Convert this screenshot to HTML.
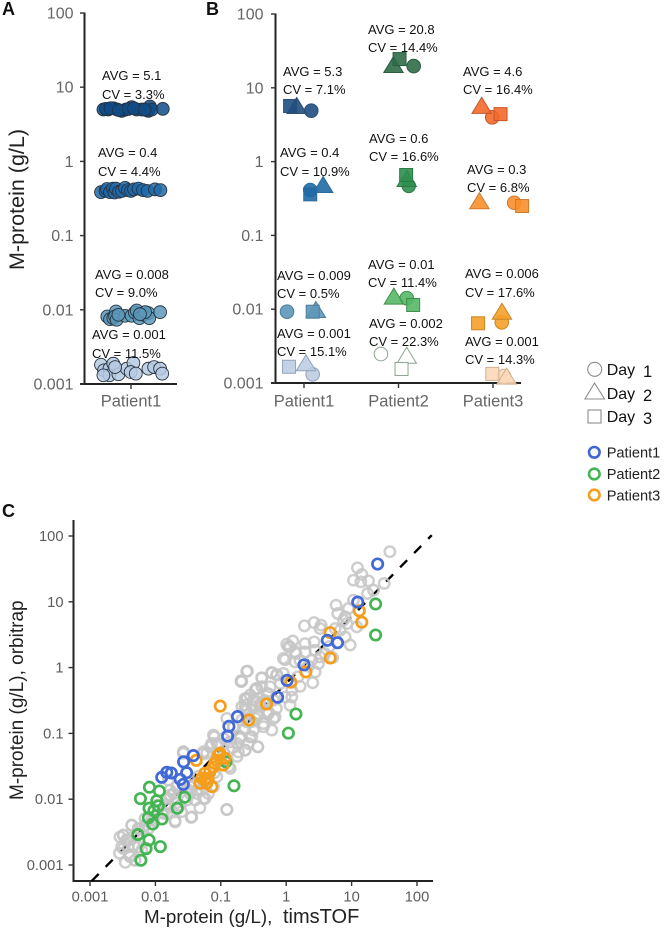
<!DOCTYPE html>
<html lang="en">
<head>
<meta charset="utf-8">
<title>M-protein measurements</title>
<style>
html,body{margin:0;padding:0;background:#fff;width:664px;height:930px;overflow:hidden}
svg{display:block;font-family:"Liberation Sans",sans-serif}
.lbl{font-size:13px;fill:#111}
.tick{font-size:16px;fill:#666}
.ctick{font-size:14.7px;fill:#5c5c5c}
.cat{font-size:16.5px;fill:#666}
.letter{font-size:18px;font-weight:bold;fill:#111}
.axis{stroke:#222;stroke-width:2;fill:none}
.tk{stroke:#333;stroke-width:1.4;fill:none}
</style>
</head>
<body>
<svg id="fig" width="664" height="930" viewBox="0 0 664 930" xmlns="http://www.w3.org/2000/svg">
  <text class="letter" x="2" y="15">A</text>
  <text class="letter" x="206" y="15">B</text>
  <text class="letter" x="2" y="517">C</text>

  <g id="panelA"></g>
  <g id="panelB"></g>
  <g id="panelC"></g>

  <text transform="translate(24,270) rotate(-90)" font-size="21.5" fill="#222">M-protein (g/L)</text>

  <g>
    <text class="lbl" x="102" y="80">AVG = 5.1</text><text class="lbl" x="102" y="99">CV = 3.3%</text>
    <text class="lbl" x="98" y="157">AVG = 0.4</text><text class="lbl" x="98" y="176">CV = 4.4%</text>
    <text class="lbl" x="95" y="279">AVG = 0.008</text><text class="lbl" x="95" y="297">CV = 9.0%</text>
    <text class="lbl" x="92" y="339">AVG = 0.001</text><text class="lbl" x="92" y="358">CV = 11.5%</text>
  </g>
  <g>
    <text class="lbl" x="283" y="76">AVG = 5.3</text><text class="lbl" x="283" y="94">CV = 7.1%</text>
    <text class="lbl" x="368" y="34">AVG = 20.8</text><text class="lbl" x="368" y="52">CV = 14.4%</text>
    <text class="lbl" x="463" y="76">AVG = 4.6</text><text class="lbl" x="463" y="94">CV = 16.4%</text>
    <text class="lbl" x="280" y="157">AVG = 0.4</text><text class="lbl" x="280" y="176">CV = 10.9%</text>
    <text class="lbl" x="369" y="143">AVG = 0.6</text><text class="lbl" x="369" y="161">CV = 16.6%</text>
    <text class="lbl" x="467" y="174">AVG = 0.3</text><text class="lbl" x="467" y="192">CV = 6.8%</text>
    <text class="lbl" x="277" y="280">AVG = 0.009</text><text class="lbl" x="277" y="298">CV = 0.5%</text>
    <text class="lbl" x="368" y="269">AVG = 0.01</text><text class="lbl" x="368" y="287">CV = 11.4%</text>
    <text class="lbl" x="465" y="278">AVG = 0.006</text><text class="lbl" x="465" y="297">CV = 17.6%</text>
    <text class="lbl" x="277" y="338">AVG = 0.001</text><text class="lbl" x="277" y="356">CV = 15.1%</text>
    <text class="lbl" x="369" y="328">AVG = 0.002</text><text class="lbl" x="369" y="346">CV = 22.3%</text>
    <text class="lbl" x="465" y="346">AVG = 0.001</text><text class="lbl" x="465" y="364">CV = 14.3%</text>
  </g>

  <g>
    <g>
      <circle cx="594.7" cy="369.3" r="7" fill="#fff" stroke="#8c8c8c" stroke-width="1.1"/>
      <text x="606.7" y="375" font-size="16" fill="#111">Day<tspan x="643" dy="2" font-size="16.5">1</tspan></text>
    </g>
    <g>
      <polygon points="594.5,383 604.5,399 585,399" fill="#fff" stroke="#8c8c8c" stroke-width="1.1"/>
      <text x="606.7" y="399" font-size="16" fill="#111">Day<tspan x="643" dy="2" font-size="16.5">2</tspan></text>
    </g>
    <g>
      <rect x="588" y="410" width="13" height="13" fill="#fff" stroke="#8c8c8c" stroke-width="1.1"/>
      <text x="606.7" y="422" font-size="16" fill="#111">Day<tspan x="643" dy="2" font-size="16.5">3</tspan></text>
    </g>
  </g>
  <g>
    <g>
      <circle cx="594.3" cy="452.3" r="5.3" fill="none" stroke="#3f66d2" stroke-width="2.6"/>
      <text x="606.7" y="457.3" font-size="14.6" fill="#222">Patient1</text>
    </g>
    <g>
      <circle cx="594.3" cy="474" r="5.3" fill="none" stroke="#45b554" stroke-width="2.6"/>
      <text x="606.7" y="479" font-size="14.6" fill="#222">Patient2</text>
    </g>
    <g>
      <circle cx="594.3" cy="495" r="5.3" fill="none" stroke="#f59e1c" stroke-width="2.6"/>
      <text x="606.7" y="500.5" font-size="14.6" fill="#222">Patient3</text>
    </g>
  </g>

  <text transform="translate(23,800) rotate(-90)" font-size="19" fill="#222">M-protein (g/L), orbitrap</text>
  <text x="144" y="923" font-size="18.8" fill="#222">M-protein (g/L),<tspan x="283" font-size="20">timsTOF</tspan></text>
</svg>

<script>
// ---------- shared tick data ----------
const logTickValues = [100, 10, 1, 0.1, 0.01, 0.001];
const logTickLabels = ['100', '10', '1', '0.1', '0.01', '0.001'];
const patientLabels = ['Patient1', 'Patient2', 'Patient3'];
const cTickValues = [0.001, 0.01, 0.1, 1, 10, 100];
const cTickLabels = ['0.001', '0.01', '0.1', '1', '10', '100'];

// ---------- panel A: replicate measurements per concentration level ----------
const aRowColors = ['#0f4c8a', '#2068a8', '#5c98b9', '#b7cae2'];
const aRow1Jitter = [-0.92, -0.76, -0.59, -0.46, -0.31, -0.17, 0.02, 0.19, 0.36, 0.52, 0.58, 0.63, 0.69, 1.06, -0.84, -0.68, -0.4, -0.08, 0.1, 0.45];
const aRow1Values = [5.0, 5.0, 5.2, 5.0, 4.8, 5.0, 5.4, 5.0, 5.0, 4.9, 4.8, 5.5, 5.0, 5.1, 5.1, 5.2, 4.9, 5.1, 5.2, 5.0];
const aRow2Jitter = [-1.0, -0.85, -0.8, -0.7, -0.6, -0.55, -0.5, -0.4, -0.3, -0.2, -0.1, 0.0, 0.1, 0.25, 0.4, 0.55, 0.8, 0.98];
const aRow2Values = [0.385, 0.40, 0.425, 0.385, 0.43, 0.38, 0.43, 0.39, 0.40, 0.44, 0.41, 0.40, 0.42, 0.43, 0.41, 0.40, 0.42, 0.41];
const aRow3Jitter = [-0.79, -0.7, -0.59, -0.5, -0.53, -0.48, -0.2, 0.02, 0.13, 0.19, 0.28, 0.41, 0.58, 0.61, 0.97, 0.47, 0.3, -0.42];
const aRow3Values = [0.00813, 0.00748, 0.00772, 0.0095, 0.00813, 0.00733, 0.0083, 0.0083, 0.0092, 0.0098, 0.00772, 0.00856, 0.00902, 0.00772, 0.0093, 0.0093, 0.00874, 0.00856];
const aRow4Jitter = [-1.0, -0.9, -0.72, -0.59, -0.72, -0.42, -0.14, 0.08, -0.01, 0.16, 0.58, 0.77, 0.97, 1.04, -0.92, -0.53];
const aRow4Values = [0.00182, 0.00153, 0.00161, 0.00188, 0.00131, 0.00135, 0.00161, 0.00192, 0.00145, 0.00138, 0.00161, 0.00169, 0.00161, 0.00138, 0.00131, 0.00169];

// ---------- panel B: one group per patient/level ----------
const bPatientIndex = [0, 0, 0, 0, 1, 1, 1, 1, 2, 2, 2, 2];
const bFill = ['#1f4e80', '#1f6aa5', '#5e97b8', '#bccde2', '#2e6b48', '#2f8f4f', '#55b866', '#ffffff', '#f26a2c', '#f78f2e', '#f5a028', '#fbd8b8'];
const bStroke = ['#2b4f76', '#2b6a9c', '#4d7d99', '#8fa3bb', '#2d5c41', '#2d7a47', '#3f8d4e', '#8ea38f', '#c9562a', '#cf7a2c', '#c98524', '#d0b090'];
const bDay1Values = [4.9, 0.412, 0.00925, 0.00131, 19.7, 0.47, 0.0141, 0.00247, 3.98, 0.277, 0.00664, 0.00124];
const bDay2Values = [5.67, 0.482, 0.00975, 0.00185, 20.4, 0.58, 0.0148, 0.00234, 5.7, 0.29, 0.00925, 0.00122];
const bDay3Values = [5.67, 0.36, 0.00925, 0.00166, 24.5, 0.658, 0.0114, 0.00155, 4.4, 0.25, 0.00644, 0.00133];
const bDay1Dodge = [0.077, 0.066, -0.18, 0.092, 0.161, 0.108, 0.087, -0.186, -0.008, 0.224, 0.093, 0.116];
const bDay2Dodge = [-0.077, 0.203, 0.126, 0.021, -0.053, 0.087, -0.049, 0.087, -0.12, -0.144, 0.095, 0.144];
const bDay3Dodge = [-0.147, 0.066, 0.092, -0.158, 0.011, 0.081, 0.155, 0.032, 0.08, 0.308, -0.158, -0.007];

// ---------- panel C: timsTOF vs orbitrap ----------
const blueX = [25, 12.4, 6.1, 4.25, 1.87, 1.03, 0.74, 0.18, 0.133, 0.127, 0.038, 0.027, 0.03, 0.024, 0.0267, 0.0175, 0.0149, 0.0125];
const blueY = [37.5, 9.9, 2.39, 2.6, 1.1, 0.64, 0.354, 0.18, 0.128, 0.091, 0.046, 0.037, 0.0253, 0.02, 0.0168, 0.025, 0.0256, 0.0215];
const greenX = [23.3, 23.3, 1.41, 1.08, 0.159, 0.12, 0.028, 0.0216, 0.0081, 0.0115, 0.0059, 0.0105, 0.0111, 0.008, 0.0095, 0.0078, 0.0126, 0.0091, 0.0054, 0.008, 0.0072, 0.0119, 0.006];
const greenY = [9.27, 3.13, 0.197, 0.101, 0.016, 0.037, 0.0107, 0.0073, 0.0152, 0.0133, 0.0102, 0.0095, 0.0079, 0.0073, 0.0067, 0.0052, 0.005, 0.0042, 0.0029, 0.0024, 0.00177, 0.0019, 0.00118];
const orangeX = [13.1, 14.3, 4.7, 4.7, 2.0, 1.18, 0.5, 0.27, 0.098, 0.042, 0.097, 0.116, 0.086, 0.109, 0.077, 0.068, 0.057, 0.051, 0.064, 0.048, 0.061, 0.073, 0.057, 0.092, 0.081];
const orangeY = [7.3, 4.9, 3.4, 1.4, 0.86, 0.6, 0.28, 0.16, 0.26, 0.039, 0.05, 0.042, 0.039, 0.033, 0.031, 0.026, 0.0248, 0.0208, 0.0208, 0.0175, 0.0175, 0.0155, 0.0196, 0.047, 0.035];
const greyLog10X = [1.585, 1.09, 1.156, 1.029, 1.258, 1.141, 1.498, 1.243, 1.335, 1.029, 0.763, 0.952, 0.789, 0.279, 0.427, 0.534, 0.519, 0.876, 0.927, 0.901, 1.08, 0.825, 0.748, 0.901, 0.978, 0.008, 0.1, 0.059, 0.289, 0.427, 0.151, 0.289, 0.442, -0.017, 0.136, 0.519, 0.595, 0.391, 0.493, 0.442, 0.406, 0.212, -0.221, -0.145, -0.374, -0.604, -0.68, -0.461, -0.272, -0.017, 0.085, 0.059, -0.4, -0.63, -0.502, -0.272, -0.17, -0.604, -0.689, -0.372, -0.474, -0.602, -0.449, -0.628, -0.296, -0.347, -0.525, -0.434, -0.628, -0.755, -0.908, -1.112, -1.138, -1.265, -1.571, -0.857, -0.908, -1.444, -1.699, -1.265, -1.189, -1.469, -1.775, -1.852, -1.622, -2.362, -2.49, -2.541, -2.413, -2.49, -2.388, -2.311, -2.337, -2.209, -2.26, -1.98, -2.03, -1.826, -1.724, -1.52, -1.367, -1.06, -1.06, -0.959, -0.806, -0.704, -0.602, -0.474, -0.678, -0.551, 0.21, 0.34, 0.66, 0.71, 0.18, -0.09, -0.3, -0.44, -0.15, -0.52, -0.82, -0.95, -1.0, -1.1, -1.21, -1.34, -1.41, -1.5, -1.6, -1.68, -1.9, -2.1, -2.19, -2.44, -2.55, -2.46, -2.33, -0.75, -0.88, -1.32, -0.33, -0.22, -0.593, -0.69, -0.374, -0.221, -0.144, -0.45, -0.603, -0.629, -0.501, -0.297, -0.195, -0.399, -0.272, -0.195, -0.348, -0.425, -0.501, -0.68, -0.629, -0.706, -0.553, -0.435, -0.629, -0.731, -0.578, -1.098, -1.165, -1.037, -1.267, -1.573, -0.859, -0.808, 0.034, -0.043, 0.136, 0.085, -0.246, -0.043, -0.908, -1.454, -1.699, -1.367, -1.24, -1.776, -1.801, -1.47, -1.291, -1.776, -1.878, -2.158, -2.362, -2.49, -2.439, -2.26, -2.413, -2.515, -2.388, -2.311, -2.26, -2.158, -2.056, -1.572, -1.214, -1.112, -1.393, -1.801, -1.674];
const greyLog10Y = [1.761, 1.517, 1.416, 1.329, 1.319, 1.304, 1.279, 1.126, 1.177, 1.025, 0.949, 0.898, 0.822, 0.634, 0.685, 0.644, 0.593, 0.72, 0.669, 0.771, 0.619, 0.568, 0.593, 0.466, 0.345, 0.355, 0.405, 0.314, 0.365, 0.39, 0.213, 0.238, 0.263, 0.121, 0.086, 0.162, 0.213, 0.111, 0.06, -0.067, -0.229, -0.285, -0.082, -0.107, -0.158, -0.056, -0.209, -0.32, -0.397, -0.447, -0.447, -0.574, -0.549, -0.473, -0.6, -0.701, -0.752, -0.65, -0.213, -0.29, -0.34, -0.467, -0.518, -0.619, -0.696, -0.899, -1.051, -1.203, -1.254, -1.152, -0.772, -1.026, -1.152, -1.279, -1.279, -1.533, -2.158, -2.269, -2.345, -1.99, -1.914, -1.914, -1.939, -2.092, -2.092, -2.396, -2.548, -2.574, -2.624, -2.751, -2.853, -2.929, -2.574, -2.777, -2.447, -2.092, -2.32, -2.218, -1.914, -2.015, -1.863, -1.66, -1.152, -1.076, -0.899, -1.051, -0.823, -0.772, -0.594, -0.416, 0.11, 0.02, 0.32, 0.15, -0.14, -0.24, -0.52, -0.7, -0.62, -0.82, -1.22, -1.3, -1.42, -1.6, -1.72, -1.65, -1.78, -1.86, -2.19, -2.0, -2.2, -2.44, -2.47, -2.62, -2.82, -2.96, -2.7, -1.35, -1.5, -2.13, -0.5, -0.95, -0.053, -0.2, -0.155, -0.073, -0.114, -0.317, -0.469, -0.571, -0.495, -0.393, -0.495, -0.596, -0.672, -0.774, -0.85, -0.723, -0.952, -0.799, -0.926, -1.079, -1.053, -1.205, -1.256, -1.282, -1.155, -1.053, -1.205, -1.155, -1.307, -1.281, -1.129, -0.901, 0.317, 0.14, 0.241, -0.342, -0.292, -0.089, -2.156, -2.277, -2.328, -1.912, -1.988, -1.861, -1.988, -1.81, -1.861, -2.115, -2.216, -2.293, -2.394, -2.546, -2.623, -2.445, -2.724, -2.724, -2.876, -2.927, -2.724, -2.394, -2.293, -1.303, -1.303, -1.81, -2.013, -1.709, -1.81];
const refLineX = [0.00106, 168];
const refLineY = [0.00057, 103];

// ---------- helpers ----------
const NS = 'http://www.w3.org/2000/svg';
function mk(parent, tag, attrs) {
  const el = document.createElementNS(NS, tag);
  for (const k in attrs) el.setAttribute(k, attrs[k]);
  parent.appendChild(el);
  return el;
}
function logScale(v0, p0, v1, p1) {
  return v => p0 + (Math.log10(v) - Math.log10(v0)) / (Math.log10(v1) - Math.log10(v0)) * (p1 - p0);
}

const yA = logScale(100, 13, 0.001, 384);
const yB = logScale(100, 14, 0.001, 383);
const xBCat = c => 304 + 94.5 * c;
const xAJit = j => 131 + 30 * j;
const xC = logScale(0.001, 90, 100, 417);
const yC = logScale(0.001, 865, 100, 536);

// ---------- panel A ----------
const gA = document.getElementById('panelA');
function drawYTicks(g, scale, axisX, cls, tickLen, gap) {
  logTickValues.forEach((v, i) => {
    const t = mk(g, 'line', {class: 'tk', x1: axisX - tickLen, x2: axisX, y1: scale(v), y2: scale(v)});
    
    
    const l = mk(g, 'text', {class: cls, x: axisX - tickLen - gap, y: scale(v) + 5.5, 'text-anchor': 'end'});
    l.textContent = logTickLabels[i];
    
    
  });
}
const axAY = mk(gA, 'line', {class: 'axis', x1: 84.5, x2: 84.5, y1: 12.5, y2: 384});


const axAX = mk(gA, 'line', {class: 'axis', x1: 80, x2: 177, y1: 384, y2: 384});


drawYTicks(gA, yA, 84.5, 'tick', 4.5, 6.5);
const tA = mk(gA, 'line', {class: 'tk', x1: 131, x2: 131, y1: 384, y2: 389});


const lA = mk(gA, 'text', {class: 'cat', x: 131, y: 406.5, 'text-anchor': 'middle'});
lA.textContent = patientLabels[0];



[[aRow4Jitter, aRow4Values], [aRow3Jitter, aRow3Values], [aRow2Jitter, aRow2Values], [aRow1Jitter, aRow1Values]].forEach((row, idx) => {
  const color = aRowColors[3 - idx];
  row[1].forEach((v, i) => {
    const c = mk(gA, 'circle', {cx: xAJit(row[0][i]), cy: yA(v), r: 6.4, fill: color, 'fill-opacity': 0.85, stroke: '#26323f', 'stroke-width': 0.9});
    
    
  });
});

// ---------- panel B ----------
const gB = document.getElementById('panelB');
const axBY = mk(gB, 'line', {class: 'axis', x1: 275.5, x2: 275.5, y1: 13.5, y2: 383});


const axBX = mk(gB, 'line', {class: 'axis', x1: 271, x2: 521, y1: 383, y2: 383});


drawYTicks(gB, yB, 275.5, 'tick', 4.5, 7.5);
patientLabels.forEach((p, i) => {
  const t = mk(gB, 'line', {class: 'tk', x1: xBCat(i), x2: xBCat(i), y1: 383, y2: 388});
  
  
  const l = mk(gB, 'text', {class: 'cat', x: xBCat(i), y: 406.5, 'text-anchor': 'middle'});
  l.textContent = p;
  
  
});
bPatientIndex.forEach((p, i) => {
  const style = {fill: bFill[i], 'fill-opacity': 0.9, stroke: bStroke[i], 'stroke-width': 1};
  const cx = mk(gB, 'circle', Object.assign({cx: xBCat(p + bDay1Dodge[i]), cy: yB(bDay1Values[i]), r: 6.8}, style));
  
  
  const tx = xBCat(p + bDay2Dodge[i]), ty = yB(bDay2Values[i]);
  const tr = mk(gB, 'polygon', Object.assign({points: tx + ',' + (ty - 8.5) + ' ' + (tx + 9.7) + ',' + (ty + 7.5) + ' ' + (tx - 9.7) + ',' + (ty + 7.5)}, style));
  
  
  const sq = mk(gB, 'rect', Object.assign({x: xBCat(p + bDay3Dodge[i]) - 6.5, y: yB(bDay3Values[i]) - 6.5, width: 13, height: 13}, style));
  
  
});

// ---------- panel C ----------
const gC = document.getElementById('panelC');
const axCY = mk(gC, 'line', {class: 'axis', x1: 73.5, x2: 73.5, y1: 520, y2: 881});


const axCX = mk(gC, 'line', {class: 'axis', x1: 72.5, x2: 433, y1: 881, y2: 881});


cTickValues.forEach((v, i) => {
  const tx = mk(gC, 'line', {class: 'tk', x1: xC(v), x2: xC(v), y1: 881, y2: 886});
  
  
  const lx = mk(gC, 'text', {class: 'ctick', x: xC(v), y: 901.5, 'text-anchor': 'middle'});
  lx.textContent = cTickLabels[i];
  
  
  const ty = mk(gC, 'line', {class: 'tk', x1: 68.5, x2: 73.5, y1: yC(v), y2: yC(v)});
  
  
  const ly = mk(gC, 'text', {class: 'ctick', x: 63.5, y: yC(v) + 5, 'text-anchor': 'end'});
  ly.textContent = cTickLabels[i];
  
  
});
const ref = mk(gC, 'line', {x1: xC(refLineX[0]), y1: yC(refLineY[0]), x2: xC(refLineX[1]), y2: yC(refLineY[1]), stroke: '#000', 'stroke-width': 2.4, 'stroke-dasharray': '10 10'});


greyLog10X.forEach((lx, i) => {
  const c = mk(gC, 'circle', {cx: xC(Math.pow(10, lx)), cy: yC(Math.pow(10, greyLog10Y[i])), r: 5.2, fill: 'none', stroke: '#c6c6c6', 'stroke-opacity': 0.85, 'stroke-width': 2.5});
  
  
});
function drawSeries(xs, ys, color, name) {
  xs.forEach((x, i) => {
    const c = mk(gC, 'circle', {cx: xC(x), cy: yC(ys[i]), r: 5.2, fill: 'none', stroke: color, 'stroke-width': 2.7});
    
    
  });
}
drawSeries(greenX, greenY, '#45b554', 'patient2-point');
drawSeries(orangeX, orangeY, '#f59e1c', 'patient3-point');
drawSeries(blueX, blueY, '#4169d8', 'patient1-point');
</script>
</body>
</html>
